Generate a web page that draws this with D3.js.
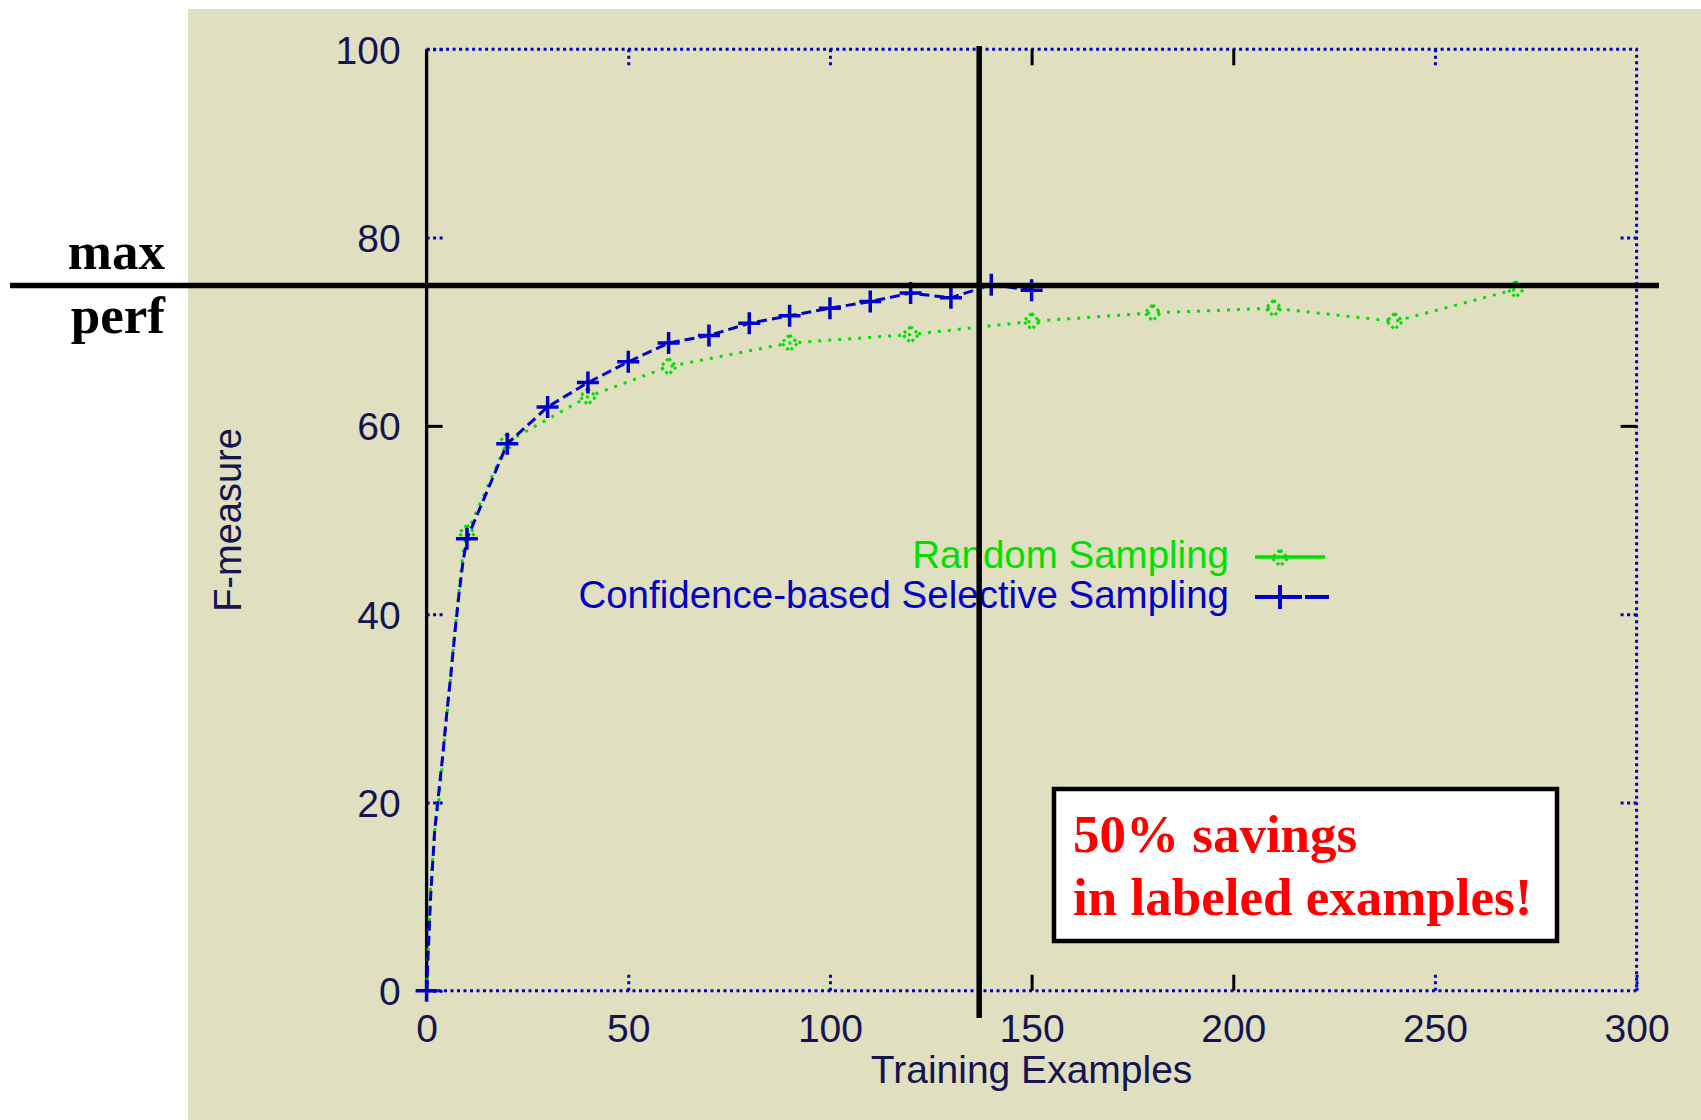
<!DOCTYPE html>
<html>
<head>
<meta charset="utf-8">
<script src="https://cdn.jsdelivr.net/npm/d3@7"></script>
<style>
  html, body { margin: 0; padding: 0; background: #ffffff; }
  svg { display: block; }
</style>
</head>
<body>
<div id="chart"></div>
<script>
// Values
const xTicks = [0, 50, 100, 150, 200, 250, 300];
const yTicks = [0, 20, 40, 60, 80, 100];

// Confidence-based selective sampling (blue, + marks every 10)
const selX = [0, 1, 2, 3, 4, 5, 6, 7, 8, 9, 10, 20, 30, 40, 50, 60, 70, 80, 90, 100, 110, 120, 130, 140, 150];
const selY = [0, 10, 17, 21, 25, 29.5, 33.5, 38, 42, 45.5, 48.0, 58.1, 62.0, 64.6, 66.8, 68.8, 69.6, 70.9, 71.7, 72.5, 73.2, 74.1, 73.6, 75.0, 74.4];
const selMarked = [0, 10, 20, 30, 40, 50, 60, 70, 80, 90, 100, 110, 120, 130, 140, 150];

// Random sampling (green)
const randX = [0, 1, 2, 3, 5, 7, 9, 10, 20, 40, 60, 90, 120, 150, 180, 210, 240, 270];
const randY = [0, 11, 17, 20, 29, 38, 46.5, 48.6, 58.3, 63.1, 66.3, 68.8, 69.7, 71.1, 72.0, 72.5, 71.1, 74.5];
const randMarked = [10, 20, 40, 60, 90, 120, 150, 180, 210, 240, 270];

const seriesNames = ["Random Sampling", "Confidence-based Selective Sampling"];
const maxPerf = 74.9;      // "max perf" level
const savingsAt = 137;     // examples where selective sampling hits max perf

const W = 1701, H = 1120;
const BLUE = "#0000c8", GREEN = "#00e000", BG = "#e0dfc0", INK = "#141450";

const svg = d3.select("#chart").append("svg")
    .attr("width", W).attr("height", H);

// slide background
svg.append("rect").attr("width", W).attr("height", H).attr("fill", "#fff");
svg.append("rect").attr("x", 188).attr("y", 9)
    .attr("width", W - 188).attr("height", H - 9).attr("fill", BG);

const x = d3.scaleLinear().domain([0, 300]).range([426.6, 1636.6]);
const y = d3.scaleLinear().domain([0, 100]).range([990.7, 49.3]);

// dotted gnuplot border (top, right, bottom)
svg.append("path")
    .attr("d", `M${x(0)},${y(100)}H${x(300)}V${y(0)}H${x(0)}`)
    .attr("fill", "none").attr("stroke", BLUE)
    .attr("stroke-width", 3).attr("stroke-dasharray", "3,3.5");

// ticks: most dotted blue, a few came out solid black
const darkX = new Set([150, 200]), darkY = new Set([60]);
function styleTicks(g, dark) {
    g.select(".domain").remove();
    g.selectAll(".tick line")
        .attr("stroke", d => dark.has(d) ? "#000" : BLUE)
        .attr("stroke-width", 3)
        .attr("stroke-dasharray", d => dark.has(d) ? null : "3,3.5");
}
function styleLabels(g) {
    g.attr("font-family", null).attr("font-size", null);
    g.selectAll(".tick text")
        .attr("fill", INK)
        .style("font-family", "'Liberation Sans', Arial, sans-serif")
        .style("font-size", "39px");
}

const gx = svg.append("g").attr("transform", `translate(0,${y(0)})`)
    .call(d3.axisBottom(x).tickValues(xTicks).tickSize(-16).tickPadding(24));
styleTicks(gx, darkX); styleLabels(gx);

svg.append("g").attr("transform", `translate(0,${y(100)})`)
    .call(d3.axisTop(x).tickValues(xTicks.slice(1, -1)).tickSize(-16).tickFormat(""))
    .call(g => styleTicks(g, darkX));

const gy = svg.append("g").attr("transform", `translate(${x(0)},0)`)
    .call(d3.axisLeft(y).tickValues(yTicks).tickSize(-16).tickPadding(26));
styleTicks(gy, darkY); styleLabels(gy);
gy.selectAll(".tick text").attr("dy", "0.36em");

svg.append("g").attr("transform", `translate(${x(300)},0)`)
    .call(d3.axisRight(y).tickValues(yTicks.slice(1, -1)).tickSize(-16).tickFormat(""))
    .call(g => styleTicks(g, darkY));

// axis titles
svg.append("text")
    .attr("x", (x(0) + x(300)) / 2).attr("y", 1083)
    .attr("text-anchor", "middle").attr("fill", INK)
    .style("font-family", "'Liberation Sans', Arial, sans-serif").style("font-size", "39px")
    .text("Training Examples");
svg.append("text")
    .attr("transform", `translate(241,${(y(0) + y(100)) / 2}) rotate(-90)`)
    .attr("text-anchor", "middle").attr("fill", INK)
    .style("font-family", "'Liberation Sans', Arial, sans-serif").style("font-size", "38px")
    .text("F-measure");

// black y axis line
svg.append("line")
    .attr("x1", x(0)).attr("x2", x(0)).attr("y1", y(100)).attr("y2", y(0))
    .attr("stroke", "#000").attr("stroke-width", 3.3);

// series
const line = d3.line().x(d => x(d[0])).y(d => y(d[1]));
const randPts = d3.zip(randX, randY);
const selPts = d3.zip(selX, selY);

svg.append("path").datum(randPts).attr("d", line)
    .attr("fill", "none").attr("stroke", GREEN)
    .attr("stroke-width", 3).attr("stroke-dasharray", "3,7");

function diamond(g, cx, cy) {
    g.append("path")
        .attr("d", `M${cx},${cy - 8}L${cx + 8},${cy}L${cx},${cy + 8}L${cx - 8},${cy}Z`)
        .attr("fill", "none").attr("stroke", GREEN)
        .attr("stroke-width", 3).attr("stroke-dasharray", "3,3");
}
const gm = svg.append("g");
randPts.filter(p => randMarked.includes(p[0]))
    .forEach(p => diamond(gm, x(p[0]), y(p[1])));

svg.append("path").datum(selPts).attr("d", line)
    .attr("fill", "none").attr("stroke", BLUE)
    .attr("stroke-width", 3).attr("stroke-dasharray", "10,5");

function plus(g, cx, cy, r) {
    g.append("path")
        .attr("d", `M${cx - r},${cy}H${cx + r}M${cx},${cy - r}V${cy + r}`)
        .attr("stroke", BLUE).attr("stroke-width", 3.5);
}
const bm = svg.append("g");
selPts.filter(p => selMarked.includes(p[0]))
    .forEach(p => plus(bm, x(p[0]), y(p[1]), 11));

// legend
const legend = svg.append("g")
    .style("font-family", "'Liberation Sans', Arial, sans-serif").style("font-size", "38.5px");
legend.append("text").attr("x", 1229).attr("y", 568).attr("text-anchor", "end")
    .attr("fill", GREEN).text(seriesNames[0]);
legend.append("text").attr("x", 1229).attr("y", 608).attr("text-anchor", "end")
    .attr("fill", BLUE).text(seriesNames[1]);
legend.append("line").attr("x1", 1255).attr("x2", 1325).attr("y1", 557).attr("y2", 557)
    .attr("stroke", GREEN).attr("stroke-width", 3.3);
diamond(legend, 1280, 558);
legend.append("line").attr("x1", 1255).attr("x2", 1329).attr("y1", 597).attr("y2", 597)
    .attr("stroke", BLUE).attr("stroke-width", 4).attr("stroke-dasharray", "47,3,24");
legend.append("line").attr("x1", 1280).attr("x2", 1280).attr("y1", 585).attr("y2", 609)
    .attr("stroke", BLUE).attr("stroke-width", 4);

// slide annotations
svg.append("line")
    .attr("x1", 10).attr("x2", 1659).attr("y1", y(maxPerf)).attr("y2", y(maxPerf))
    .attr("stroke", "#000").attr("stroke-width", 5.5);
svg.append("line")
    .attr("x1", x(savingsAt)).attr("x2", x(savingsAt)).attr("y1", 46).attr("y2", 1018)
    .attr("stroke", "#000").attr("stroke-width", 5.5);

const serif = "'Liberation Serif', 'Times New Roman', serif";
svg.append("text").attr("x", 165).attr("y", 269).attr("text-anchor", "end")
    .style("font-family", serif).style("font-size", "53px").style("font-weight", "bold")
    .text("max");
svg.append("text").attr("x", 165).attr("y", 333).attr("text-anchor", "end")
    .style("font-family", serif).style("font-size", "53px").style("font-weight", "bold")
    .text("perf");

svg.append("rect").attr("x", 1054).attr("y", 789).attr("width", 503).attr("height", 152)
    .attr("fill", "#fff").attr("stroke", "#000").attr("stroke-width", 4.5);
const note = svg.append("text")
    .style("font-family", serif).style("font-size", "53px").style("font-weight", "bold")
    .attr("fill", "#ff0000");
note.append("tspan").attr("x", 1073).attr("y", 852).text("50% savings");
note.append("tspan").attr("x", 1073).attr("y", 915).text("in labeled examples!");
</script>
</body>
</html>
